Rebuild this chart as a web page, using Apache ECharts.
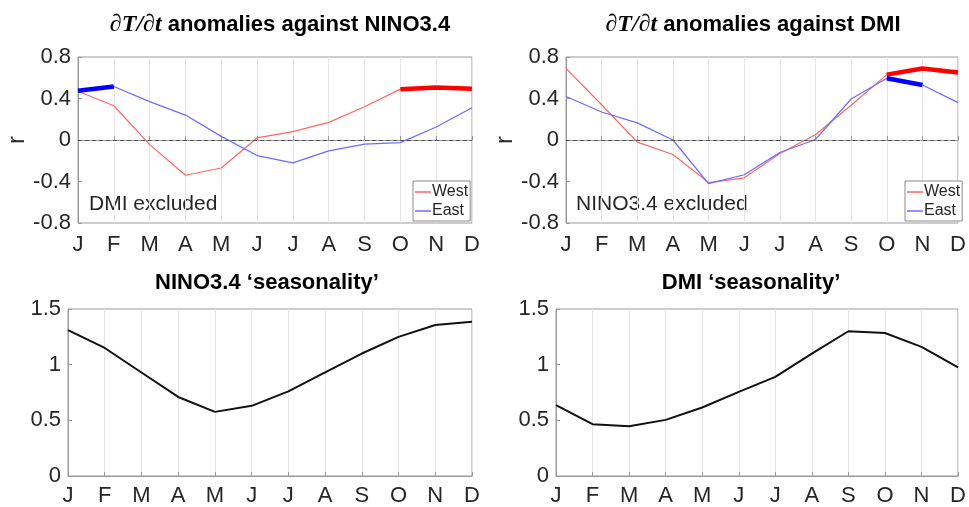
<!DOCTYPE html>
<html>
<head>
<meta charset="utf-8">
<script src="https://cdn.jsdelivr.net/npm/echarts@6/dist/echarts.min.js"></script>
<style>html,body{margin:0;padding:0;background:#fff}#c{width:969px;height:507px}</style>
</head>
<body>
<div id="c"></div>
<script>
// ---------- data ----------
const months = ['J','F','M','A','M','J','J','A','S','O','N','D'];
// dT/dt anomalies vs NINO3.4 (DMI excluded)
const ninoWest = [0.47, 0.33, -0.045, -0.34, -0.27, 0.02, 0.08, 0.17, 0.32, 0.49, 0.505, 0.495];
const ninoEast = [0.475, 0.515, 0.37, 0.24, 0.035, -0.15, -0.22, -0.105, -0.04, -0.025, 0.125, 0.31];
// dT/dt anomalies vs DMI (NINO3.4 excluded)
const dmiWest = [0.69, 0.34, -0.02, -0.14, -0.41, -0.365, -0.13, 0.05, 0.335, 0.63, 0.69, 0.65];
const dmiEast = [0.42, 0.27, 0.165, 0.0, -0.42, -0.335, -0.12, 0.005, 0.395, 0.595, 0.53, 0.36];
// seasonality
const ninoSeason = [1.31, 1.15, 0.93, 0.71, 0.576, 0.63, 0.76, 0.93, 1.10, 1.25, 1.356, 1.386];
const dmiSeason = [0.636, 0.465, 0.447, 0.504, 0.615, 0.756, 0.891, 1.10, 1.30, 1.284, 1.16, 0.975];
// significant (thick) segments: [fromIndex, toIndex]
const ninoEastSig = [0, 1];
const ninoWestSig = [9, 11];
const dmiWestSig = [9, 11];
const dmiEastSig = [9, 10];
const rTicks = [-0.8, 0.8, 0.4];
const sTicks = [0, 1.5, 0.5];

// ---------- chart ----------
function seg(arr, r) { return arr.map((v, i) => (i >= r[0] && i <= r[1]) ? v : null); }
const FONT = 'Liberation Sans';
const TXT = '#262626';
const BORDER = '#9a9a9a';

const grids = [
  {left: 78, top: 57, width: 394, height: 166},
  {left: 566, top: 57, width: 395, height: 166},
  {left: 68, top: 309, width: 404, height: 167},
  {left: 556, top: 309, width: 405, height: 167}
].map(g => Object.assign({show: true, borderColor: BORDER, borderWidth: 1, backgroundColor: 'transparent'}, g));

const xAxes = [0,1,2,3].map(i => ({
  type: 'category', gridIndex: i, data: months, boundaryGap: false,
  axisLine: {lineStyle: {color: BORDER}},
  axisTick: {inside: true, length: 4, lineStyle: {color: BORDER}},
  axisLabel: {fontFamily: FONT, fontSize: 22, color: TXT, margin: i < 2 ? 11 : 9},
  splitLine: {show: true, lineStyle: {color: '#e6e6e6', width: 1}}
}));

function yAx(i, t, withName) {
  return {
    type: 'value', gridIndex: i, min: t[0], max: t[1], interval: t[2],
    name: withName ? 'r' : '', nameLocation: 'middle', nameGap: 46, nameRotate: 90,
    nameTextStyle: {fontFamily: FONT, fontSize: 24, color: TXT},
    axisLine: {show: true, lineStyle: {color: BORDER}},
    axisTick: {show: true, inside: true, length: 4, lineStyle: {color: BORDER}},
    axisLabel: {fontFamily: FONT, fontSize: 22, color: TXT, margin: 7,
      formatter: v => { const x = Math.round(v * 10) / 10; return x === 0 ? '0' : String(x); }},
    splitLine: {show: false}
  };
}
const yAxes = [yAx(0, rTicks, true), yAx(1, rTicks, true), yAx(2, sTicks, false), yAx(3, sTicks, false)];

const RED = '#ff6666', BLUE = '#6b6bff';
const zeroLine = {silent: true, symbol: 'none', label: {show: false},
  lineStyle: {color: '#555', type: [4, 3], width: 1}, data: [{yAxis: 0}]};

function thin(name, data, idx, color, mark) {
  const s = {name, type: 'line', data, xAxisIndex: idx, yAxisIndex: idx, symbol: 'none',
    lineStyle: {color, width: 1.2}, itemStyle: {color}, z: 3, animation: false};
  if (mark) s.markLine = zeroLine;
  return s;
}
function thick(name, data, idx, color) {
  return {name, type: 'line', data, xAxisIndex: idx, yAxisIndex: idx, symbol: 'none',
    connectNulls: false, lineStyle: {color, width: 4.5}, itemStyle: {color}, z: 4, animation: false};
}

const series = [
  thin('West', ninoWest, 0, RED, true),
  thin('East', ninoEast, 0, BLUE, false),
  thick('W-sig', seg(ninoWest, ninoWestSig), 0, '#ff0000'),
  thick('E-sig', seg(ninoEast, ninoEastSig), 0, '#0000ff'),
  thin('West', dmiWest, 1, RED, true),
  thin('East', dmiEast, 1, BLUE, false),
  thick('W-sig', seg(dmiWest, dmiWestSig), 1, '#ff0000'),
  thick('E-sig', seg(dmiEast, dmiEastSig), 1, '#0000ff'),
  {name: 'NINO3.4', type: 'line', data: ninoSeason, xAxisIndex: 2, yAxisIndex: 2, symbol: 'none',
    lineStyle: {color: '#111', width: 2}, animation: false},
  {name: 'DMI', type: 'line', data: dmiSeason, xAxisIndex: 3, yAxisIndex: 3, symbol: 'none',
    lineStyle: {color: '#111', width: 2}, animation: false}
];

function legendAt(left) {
  return {show: true, data: ['West', 'East'], orient: 'vertical', left, top: 181,
    icon: 'rect', itemWidth: 16, itemHeight: 1.5, itemGap: 3, padding: [3, 2, 2, 2],
    backgroundColor: '#fff', borderColor: '#8a8a8a', borderWidth: 1, borderRadius: 0,
    textStyle: {fontFamily: FONT, fontSize: 16, color: TXT, padding: [0, 0, 0, -4]}, selectedMode: false};
}

const richT = {i: {fontFamily: 'Liberation Serif', fontStyle: 'italic', fontWeight: 'bold', fontSize: 24, color: '#000'},
  b: {fontFamily: FONT, fontWeight: 'bold', fontSize: 22, color: '#000'}};
function ttl(text, left, top) {
  return {text, left, top, textAlign: 'center', textStyle: {fontFamily: FONT, fontWeight: 'bold', fontSize: 22, color: '#000', rich: richT}};
}

const option = {
  animation: false,
  backgroundColor: '#fff',
  title: [
    ttl('{i|∂T/∂t} {b|anomalies against NINO3.4}', 275, 8),
    ttl('{i|∂T/∂t} {b|anomalies against DMI}', 748, 8),
    ttl('NINO3.4 ‘seasonality’', 262, 267),
    ttl('DMI ‘seasonality’', 746, 267)
  ],
  grid: grids, xAxis: xAxes, yAxis: yAxes, series,
  legend: [legendAt(413), legendAt(905)],
  graphic: [
    {type: 'text', left: 89, top: 194, style: {text: 'DMI excluded', fontFamily: FONT, fontSize: 21, fill: TXT}},
    {type: 'text', left: 576, top: 194, style: {text: 'NINO3.4 excluded', fontFamily: FONT, fontSize: 21, fill: TXT}}
  ]
};
const chart = echarts.init(document.getElementById('c'), null, {renderer: 'canvas'});
chart.setOption(option);
</script>
</body>
</html>
